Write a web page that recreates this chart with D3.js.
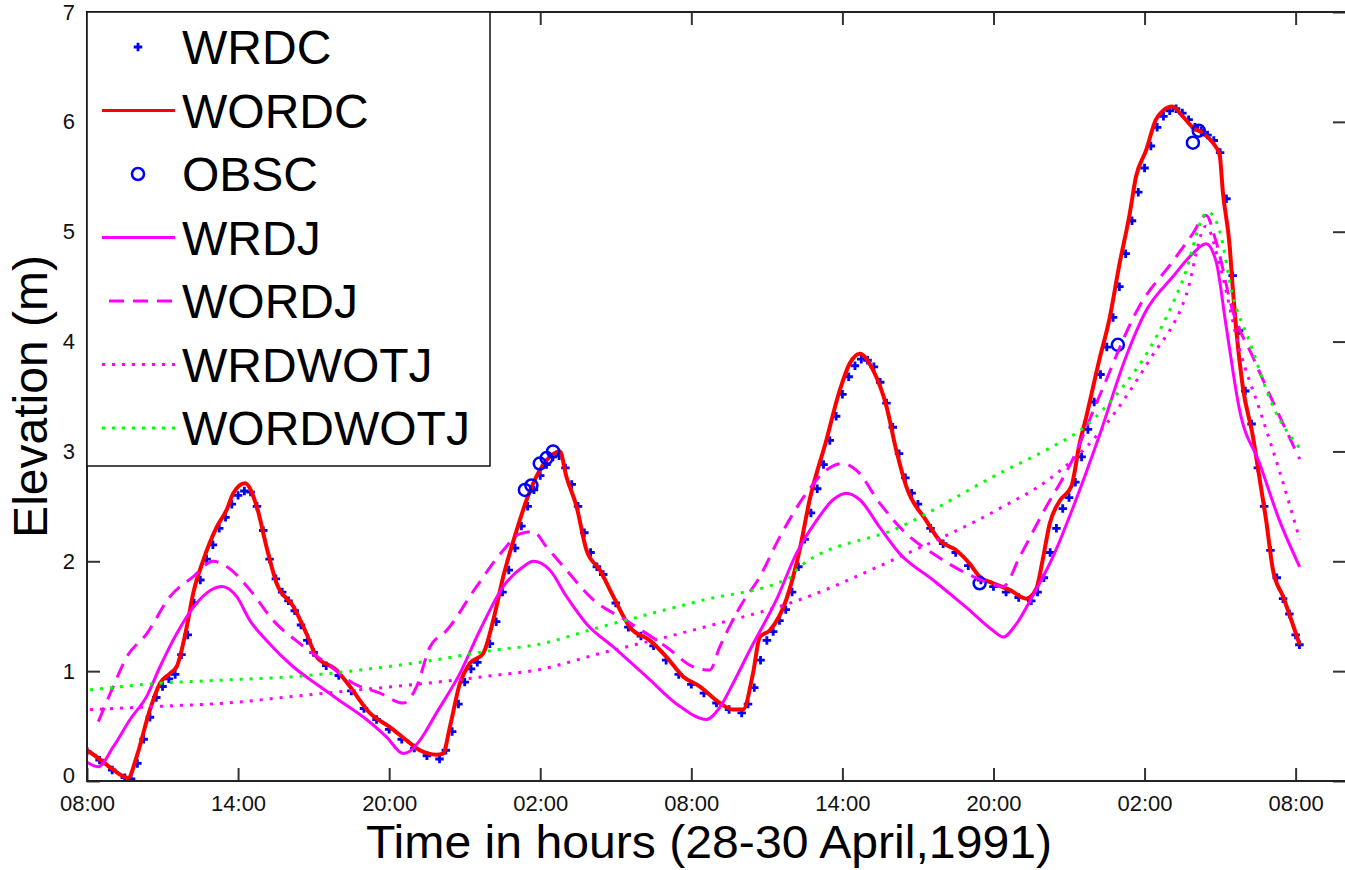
<!DOCTYPE html>
<html>
<head>
<meta charset="utf-8">
<script src="https://cdn.jsdelivr.net/npm/d3@7"></script>
<style>
  body { margin: 0; background: #fff; }
  svg { display: block; font-family: "Liberation Sans", Arial, sans-serif; }
</style>
</head>
<body>
<script>
// hours after 08:00, 28 April 1991
const tickHours = [0, 6, 12, 18, 24, 30, 36, 42, 48];
const tickLabels = ["08:00", "14:00", "20:00", "02:00", "08:00", "14:00", "20:00", "02:00", "08:00"];
const elevTicks = [0, 1, 2, 3, 4, 5, 6, 7];

// WRDC (blue dots)
const wrdc = [
  [0,0.27],[0.5,0.19],[1,0.10],[1.5,0.03],[1.75,0.02],[2,0.16],[2.25,0.38],[2.5,0.58],[2.75,0.76],[3,0.86],
  [3.25,0.93],[3.5,0.97],[3.75,1.15],[4,1.33],[4.25,1.62],[4.5,1.83],[4.75,2.02],[5,2.15],[5.25,2.30],[5.5,2.40],
  [5.75,2.52],[6,2.60],[6.25,2.64],[6.5,2.63],[6.75,2.50],[7,2.28],[7.25,2.02],[7.5,1.84],[7.75,1.72],[8,1.64],
  [8.25,1.55],[8.5,1.42],[8.75,1.28],[9,1.17],[9.5,1.05],[10,0.96],[10.5,0.82],[11,0.66],[11.5,0.56],[12,0.47],
  [12.5,0.38],[13,0.30],[13.5,0.23],[14,0.20],[14.25,0.28],[14.5,0.45],[14.75,0.70],[15,0.90],[15.25,1.02],[15.5,1.08],
  [16,1.25],[16.25,1.45],[16.5,1.72],[16.75,1.92],[17,2.12],[17.25,2.32],[17.5,2.50],[17.75,2.65],[18,2.78],[18.25,2.88],
  [18.5,2.95],[18.75,2.96],[19,2.85],[19.25,2.70],[19.5,2.50],[19.75,2.26],[20,2.08],[20.25,1.95],[20.5,1.88],[21,1.62],
  [21.5,1.40],[22,1.32],[22.5,1.23],[23,1.10],[23.5,0.97],[24,0.88],[24.5,0.80],[25,0.71],[25.5,0.65],[26,0.62],
  [26.25,0.70],[26.5,0.85],[26.75,1.10],[27,1.28],[27.25,1.36],[27.5,1.46],[27.75,1.56],[28,1.72],[28.25,1.95],[28.5,2.20],
  [28.75,2.44],[29,2.66],[29.25,2.88],[29.5,3.10],[29.75,3.32],[30,3.52],[30.25,3.68],[30.5,3.78],[30.75,3.84],[31,3.83],
  [31.25,3.77],[31.5,3.63],[31.75,3.44],[32,3.22],[32.25,2.98],[32.5,2.76],[32.75,2.62],[33,2.52],[33.5,2.30],[34,2.16],
  [34.5,2.08],[35,1.96],[35.5,1.83],[36,1.77],[36.5,1.72],[37,1.67],[37.5,1.64],[37.75,1.72],[38,1.85],[38.25,2.08],
  [38.5,2.30],[38.75,2.48],[39,2.58],[39.25,2.72],[39.5,2.95],[39.75,3.20],[40,3.45],[40.25,3.70],[40.5,3.95],[40.75,4.22],
  [41,4.50],[41.25,4.80],[41.5,5.10],[41.75,5.36],[42,5.58],[42.25,5.78],[42.5,5.95],[42.75,6.05],[43,6.10],[43.25,6.12],
  [43.5,6.08],[43.75,6.02],[44,5.95],[44.25,5.92],[44.5,5.88],[44.75,5.83],[45,5.72],[45.25,5.30],[45.5,4.60],[45.75,4.10],
  [46,3.55],[46.25,3.25],[46.5,2.85],[46.75,2.50],[47,2.10],[47.25,1.85],[47.5,1.66],[47.75,1.52],[48,1.33],[48.15,1.24]
];

// WORDC (red line)
const wordc = [
  [0,0.28],[0.5,0.2],[1.0,0.11],[1.64,0.03],[1.97,0.22],[2.5,0.65],[2.9,0.89],[3.3,0.98],[3.56,1.04],[3.96,1.40],
  [4.22,1.71],[4.62,2.01],[5.15,2.31],[5.55,2.47],[5.81,2.62],[6.27,2.71],[6.74,2.50],[7.13,2.13],[7.53,1.80],[8.19,1.59],
  [8.72,1.34],[9.12,1.13],[9.91,1.01],[10.44,0.86],[11.23,0.62],[12.03,0.49],[12.69,0.37],[13.22,0.28],[13.88,0.24],[14.14,0.25],
  [14.41,0.49],[14.81,0.89],[15.2,1.07],[15.73,1.16],[16.13,1.46],[16.53,1.86],[17.06,2.28],[17.46,2.56],[17.72,2.71],[18.25,2.92],
  [18.78,3.0],[19.04,2.77],[19.44,2.50],[19.84,2.10],[20.37,1.92],[20.9,1.68],[21.56,1.40],[22.35,1.28],[23.01,1.13],[23.68,0.95],
  [24.34,0.86],[25.13,0.71],[25.66,0.65],[26.05,0.65],[26.45,0.98],[26.72,1.31],[27.11,1.37],[27.77,1.65],[28.3,2.10],[28.7,2.56],
  [29.36,3.10],[29.9,3.56],[30.29,3.80],[30.69,3.89],[31.22,3.74],[31.75,3.41],[32.14,3.01],[32.54,2.68],[33.33,2.37],[33.86,2.19],
  [34.52,2.10],[35.05,1.98],[35.45,1.86],[35.98,1.80],[36.64,1.74],[37.3,1.66],[37.7,1.75],[37.96,2.02],[38.23,2.34],[38.63,2.55],
  [39.09,2.68],[39.42,3.07],[39.68,3.31],[40.2,3.83],[40.61,4.21],[41.0,4.70],[41.4,5.15],[41.66,5.50],[42.06,5.74],[42.45,6.02],
  [42.72,6.10],[43.1,6.14],[43.52,6.05],[43.91,5.95],[44.31,5.90],[44.71,5.81],[44.98,5.70],[45.11,5.36],[45.38,4.87],[45.5,4.49],
  [45.64,4.11],[45.9,3.59],[46.3,3.14],[46.57,2.75],[46.83,2.37],[47.1,1.92],[47.5,1.68],[48.16,1.24]
];

// OBSC (observed, circles)
const obsc = [
  [17.39,2.65],[17.65,2.69],[17.98,2.89],[18.25,2.94],[18.51,3.0],
  [35.45,1.80],[40.94,3.97],[43.92,5.81],[44.15,5.92]
];

// WRDJ (magenta solid)
const wrdj = [
  [0,0.17],[0.45,0.13],[1.04,0.31],[1.71,0.56],[2.37,0.77],[2.9,1.04],[3.56,1.34],[4.22,1.58],[4.75,1.71],[5.35,1.77],
  [5.94,1.68],[6.47,1.46],[7.13,1.28],[8.19,1.04],[9.25,0.86],[10.17,0.71],[11.1,0.56],[11.9,0.40],[12.56,0.25],[12.82,0.27],
  [13.22,0.37],[13.88,0.62],[14.81,0.98],[15.6,1.37],[16.53,1.77],[17.32,1.95],[17.72,2.0],[18.38,1.92],[19.04,1.68],[19.84,1.43],
  [20.9,1.22],[22.22,0.95],[23.54,0.68],[24.6,0.56],[25.13,0.67],[25.66,0.89],[26.32,1.19],[27.38,1.65],[28.17,2.07],[28.97,2.37],
  [29.63,2.56],[30.16,2.62],[30.69,2.56],[31.48,2.31],[32.27,2.07],[33.6,1.83],[34.92,1.58],[35.98,1.37],[36.38,1.31],[36.91,1.43],
  [37.57,1.69],[38.36,2.04],[39.16,2.49],[40.2,3.14],[41.26,3.86],[42.06,4.28],[43.12,4.59],[43.91,4.80],[44.44,4.89],[44.84,4.73],
  [45.24,4.14],[45.77,3.38],[46.57,2.89],[47.36,2.37],[48.16,1.95]
];

// WORDJ (magenta dashed)
const wordj = [
  [0.45,0.54],[1.04,0.86],[1.58,1.13],[2.37,1.34],[3.3,1.68],[4.22,1.86],[5.01,2.0],[5.68,1.93],[6.47,1.74],[7.4,1.46],
  [8.46,1.25],[9.52,1.07],[10.57,0.89],[11.63,0.80],[12.56,0.71],[13.09,0.86],[13.62,1.22],[14.28,1.37],[15.47,1.77],[16.53,2.10],
  [17.19,2.25],[17.72,2.27],[18.25,2.13],[19.04,1.92],[20.1,1.65],[21.42,1.46],[23.01,1.22],[24.07,1.04],[24.73,1.01],[25.13,1.22],
  [25.92,1.58],[26.72,1.86],[27.51,2.22],[28.57,2.62],[29.36,2.83],[30.02,2.89],[30.55,2.83],[31.48,2.53],[32.54,2.25],[33.6,2.07],
  [34.92,1.89],[35.85,1.80],[36.38,1.77],[37.04,2.04],[37.96,2.44],[39.15,2.93],[40.2,3.50],[41.79,4.32],[43.12,4.73],[43.91,4.98],
  [44.44,5.15],[44.84,4.91],[45.5,4.28],[46.3,3.86],[47.1,3.45],[48.16,2.93]
];

// WRDWOTJ (magenta dotted)
const wrdwotj = [
  [0.12,0.65],[2.9,0.68],[5.55,0.71],[8.19,0.77],[10.84,0.83],[13.49,0.89],[16.13,0.96],[17.85,1.01],[20.37,1.16],[24.34,1.39],
  [28.3,1.65],[32.27,2.04],[36.24,2.48],[38.23,2.75],[40.2,3.17],[42.19,3.83],[43.65,4.42],[44.44,5.05],[44.98,4.70],[45.77,3.93],
  [46.57,3.38],[47.36,2.82],[48.16,2.20]
];

// WORDWOTJ (green dotted)
const wordwotj = [
  [0.12,0.83],[2.9,0.89],[5.55,0.92],[8.19,0.95],[10.84,1.01],[13.49,1.09],[16.13,1.19],[17.85,1.24],[20.37,1.40],[24.34,1.64],
  [27.9,1.85],[28.3,1.95],[32.27,2.31],[36.24,2.80],[38.23,3.03],[39.55,3.21],[41.14,3.59],[42.19,3.93],[43.52,4.56],[44.51,5.18],
  [44.98,5.01],[45.5,4.42],[46.17,4.0],[47.1,3.41],[48.16,3.03]
];

const width = 1345;
const height = 870;

const svg = d3.select("body").append("svg")
  .attr("width", width)
  .attr("height", height);

const x = d3.scaleLinear().domain([0, 50]).range([87, 1346]);
const y = d3.scaleLinear().domain([0, 7]).range([781, 12]);

svg.append("defs").append("clipPath").attr("id", "plotclip")
  .append("rect")
  .attr("x", x(0)).attr("y", y(7))
  .attr("width", x(50) - x(0)).attr("height", y(0) - y(7));

const line = d3.line()
  .x((d) => x(d[0]))
  .y((d) => y(d[1]))
  .curve(d3.curveMonotoneX);

const plot = svg.append("g").attr("clip-path", "url(#plotclip)");

// WRDC markers
const starPath = d3.symbol().type(d3.symbolCross).size(40);
plot.append("g").selectAll("path")
  .data(wrdc)
  .join("path")
  .attr("d", starPath)
  .attr("transform", (d) => `translate(${x(d[0])},${y(d[1])})`)
  .attr("fill", "#0000ff");

// WORDC
plot.append("path").datum(wordc)
  .attr("d", line)
  .attr("fill", "none")
  .attr("stroke", "#ff0000")
  .attr("stroke-width", 4)
  .attr("stroke-linejoin", "round");

// OBSC
plot.append("g").selectAll("circle")
  .data(obsc)
  .join("circle")
  .attr("cx", (d) => x(d[0]))
  .attr("cy", (d) => y(d[1]))
  .attr("r", 6)
  .attr("fill", "none")
  .attr("stroke", "#0000ff")
  .attr("stroke-width", 2.5);

const jSeries = [
  { data: wrdj, color: "#ff00ff", dash: null },
  { data: wordj, color: "#ff00ff", dash: "15,9" },
  { data: wrdwotj, color: "#ff00ff", dash: "3,7" },
  { data: wordwotj, color: "#00ff00", dash: "3,7" },
];

jSeries.forEach((s) => {
  plot.append("path").datum(s.data)
    .attr("d", line)
    .attr("fill", "none")
    .attr("stroke", s.color)
    .attr("stroke-width", 3)
    .attr("stroke-dasharray", s.dash);
});

// axes (ticks inward, MATLAB style)
const axisStyle = (g) => {
  g.select(".domain").remove();
  g.selectAll(".tick line").attr("stroke", "#333").attr("stroke-width", 2);
  g.selectAll("text").attr("font-size", 22).attr("fill", "#111")
    .attr("font-family", "'Liberation Sans', Arial, sans-serif");
};

svg.append("g")
  .attr("transform", `translate(0,${y(0)})`)
  .call(d3.axisBottom(x).tickValues(tickHours).tickFormat((d, i) => tickLabels[i])
    .tickSizeInner(-13).tickSizeOuter(0).tickPadding(14))
  .call(axisStyle);

svg.append("g")
  .attr("transform", `translate(0,${y(7)})`)
  .call(d3.axisTop(x).tickValues(tickHours).tickFormat("")
    .tickSizeInner(-13).tickSizeOuter(0))
  .call(axisStyle);

const yAxisG = svg.append("g")
  .attr("transform", `translate(${x(0)},0)`)
  .call(d3.axisLeft(y).tickValues(elevTicks).tickFormat(d3.format("d"))
    .tickSizeInner(-13).tickSizeOuter(0).tickPadding(12))
  .call(axisStyle);

// the "0" label sits a little above the corner, as in the original
yAxisG.selectAll(".tick text").filter((d) => d === 0).attr("y", -6);

svg.append("g")
  .attr("transform", `translate(${x(50)},0)`)
  .call(d3.axisRight(y).tickValues(elevTicks).tickFormat("")
    .tickSizeInner(-13).tickSizeOuter(0))
  .call(axisStyle);

// frame
svg.append("rect")
  .attr("x", x(0)).attr("y", y(7))
  .attr("width", x(50) - x(0)).attr("height", y(0) - y(7))
  .attr("fill", "none")
  .attr("stroke", "#222")
  .attr("stroke-width", 2);

// axis titles
svg.append("text")
  .attr("x", 709)
  .attr("y", 858)
  .attr("text-anchor", "middle")
  .attr("font-size", 46)
  .attr("fill", "#000")
  .attr("textLength", 686)
  .attr("lengthAdjust", "spacingAndGlyphs")
  .text("Time in hours (28-30 April,1991)");

svg.append("text")
  .attr("transform", `translate(47,${(y(0) + y(7)) / 2}) rotate(-90)`)
  .attr("text-anchor", "middle")
  .attr("font-size", 48)
  .attr("fill", "#000")
  .text("Elevation (m)");

// legend
const legendItems = ["WRDC", "WORDC", "OBSC", "WRDJ", "WORDJ", "WRDWOTJ", "WORDWOTJ"];
const legend = svg.append("g");
legend.append("rect")
  .attr("x", 87).attr("y", 12)
  .attr("width", 403).attr("height", 454)
  .attr("fill", "#fff")
  .attr("stroke", "#111")
  .attr("stroke-width", 1.5);

const legendRow = (i) => 47 + i * 63.5;

legendItems.forEach((name, i) => {
  const cy = legendRow(i);
  legend.append("text")
    .attr("x", 182)
    .attr("y", cy + 17)
    .attr("font-size", 48)
    .attr("fill", "#000")
    .text(name);
});

legend.append("path")
  .attr("d", starPath)
  .attr("transform", `translate(138,${legendRow(0)})`)
  .attr("fill", "#0000ff");

legend.append("line")
  .attr("x1", 102).attr("x2", 175)
  .attr("y1", legendRow(1)).attr("y2", legendRow(1))
  .attr("stroke", "#ff0000").attr("stroke-width", 3);

legend.append("circle")
  .attr("cx", 138).attr("cy", legendRow(2)).attr("r", 6)
  .attr("fill", "none").attr("stroke", "#0000ff").attr("stroke-width", 2.5);

jSeries.forEach((s, k) => {
  legend.append("line")
    .attr("x1", s.dash === "15,9" ? 109 : 102).attr("x2", 175)
    .attr("y1", legendRow(3 + k)).attr("y2", legendRow(3 + k))
    .attr("stroke", s.color).attr("stroke-width", 3)
    .attr("stroke-dasharray", s.dash);
});
</script>
</body>
</html>
